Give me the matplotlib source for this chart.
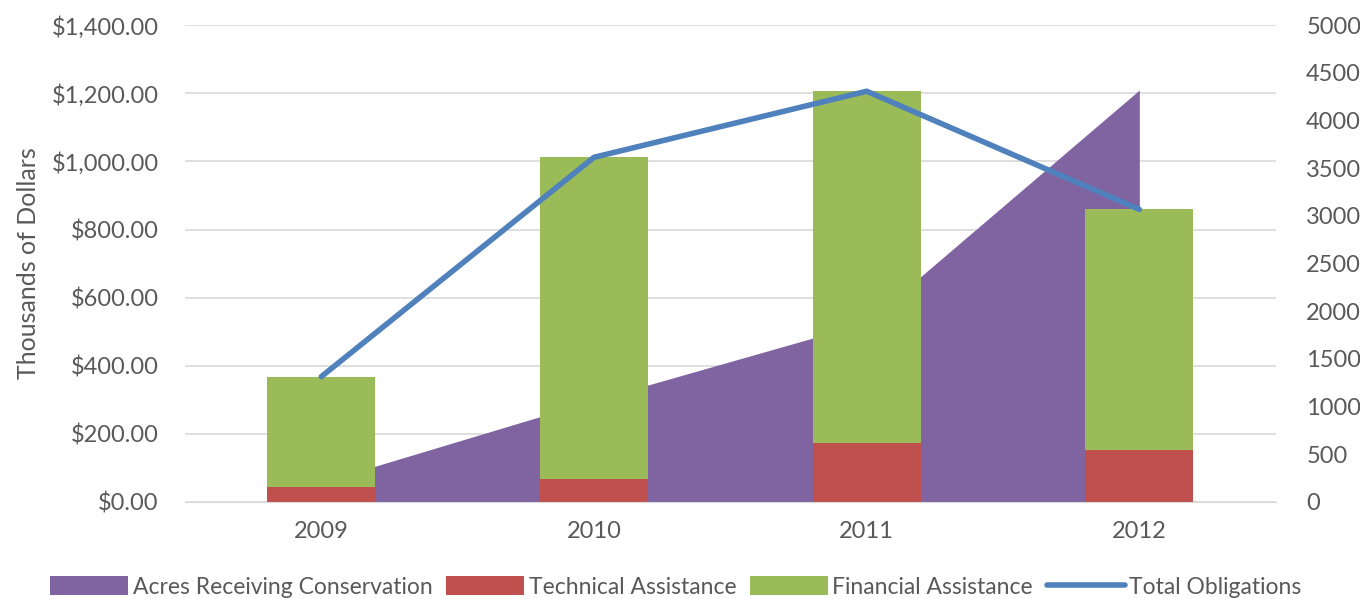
import numpy as np
import matplotlib
matplotlib.use("Agg")
import matplotlib.pyplot as plt
from matplotlib.ticker import FuncFormatter, MultipleLocator

years = ["2009", "2010", "2011", "2012"]
technical = [44, 68, 174, 153]
financial = [324, 944, 1032, 706]
total_obligations = [368, 1012, 1206, 859]
acres = [205, 1065, 1880, 4320]

PURPLE = "#8064a2"
RED = "#c0504d"
GREEN = "#9bbb59"
BLUE = "#4f81bd"
TEXT = "#595959"
GRID = "#d9d9d9"

plt.rcParams["font.family"] = ["Lato", "DejaVu Sans"]


def main():
    fig = plt.figure(figsize=(13.6, 5.99), dpi=100)
    ax = fig.add_axes([0.136, 0.162, 0.802, 0.796])
    ax2 = ax.twinx()
    x = np.arange(len(years))

    ax.set_xlim(-0.5, len(years) - 0.5)
    ax.set_ylim(0, 1400)
    ax2.set_ylim(0, 5000)

    # area belongs to the right axis but is drawn on the left axes so it sits under the bars
    area = ax.fill_between(x, 0, acres, transform=ax2.transData, color=PURPLE, lw=0,
                           zorder=1, label="Acres Receiving Conservation")
    tech = ax.bar(x, technical, width=0.395, color=RED, zorder=2, label="Technical Assistance")
    fin = ax.bar(x, financial, width=0.395, bottom=technical, color=GREEN, zorder=2,
                 label="Financial Assistance")
    line, = ax.plot(x, total_obligations, color=BLUE, lw=4, zorder=3, solid_capstyle="round",
                    label="Total Obligations")
    ax.set_ylim(0, 1400)

    ax.yaxis.set_major_locator(MultipleLocator(200))
    ax.yaxis.set_major_formatter(FuncFormatter(lambda v, p: f"${v:,.2f}"))
    ax.grid(axis="y", color=GRID, lw=1.2)
    ax.set_axisbelow(True)
    ax.set_xticks(x)
    ax.set_xticklabels(years)
    ax2.yaxis.set_major_locator(MultipleLocator(500))

    for a in (ax, ax2):
        for s in a.spines.values():
            s.set_visible(False)
        a.tick_params(length=0, labelsize=17, colors=TEXT)
    ax.spines["bottom"].set_visible(True)
    ax.spines["bottom"].set_color(GRID)
    ax.tick_params(axis="y", pad=19)
    ax.tick_params(axis="x", pad=14)
    ax2.tick_params(axis="y", pad=22)

    ax.set_ylabel("Thousands of Dollars", fontsize=18, color=TEXT, labelpad=8)

    ax.legend([area, tech, fin, line],
              ["Acres Receiving Conservation", "Technical Assistance",
               "Financial Assistance", "Total Obligations"],
              loc="center", bbox_to_anchor=(0.45, -0.178),
              ncol=4, frameon=False, fontsize=16.5, labelcolor=TEXT,
              handlelength=3.4, handleheight=0.9, handletextpad=0.2, columnspacing=0.6)

    fig.savefig("out.png", dpi=100)


if __name__ == "__main__":
    main()
